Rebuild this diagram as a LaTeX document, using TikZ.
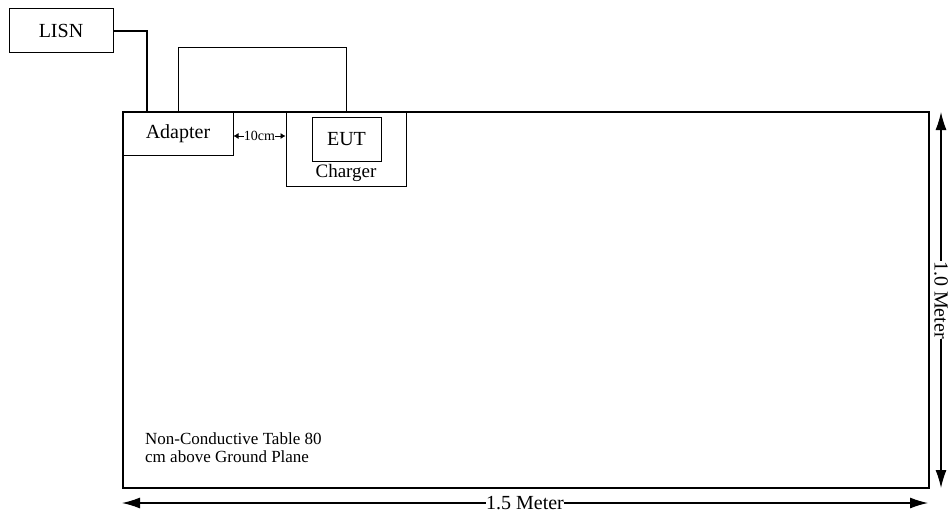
\documentclass[tikz,border=0pt]{standalone}
\usepackage{fontspec}
\setmainfont{Liberation Serif}
\usetikzlibrary{arrows.meta}
\tikzset{
  unit/.style={draw,line width=1pt,inner sep=0pt,font=\fontsize{20}{22}\selectfont},
  dimline/.style={line width=1.2pt,{Latex[length=18pt,width=11pt]}-{Latex[length=18pt,width=11pt]}},
}
\begin{document}
\begin{tikzpicture}[x=1pt,y=-1pt,font=\fontsize{17}{18}\selectfont]
  \useasboundingbox (0,0) rectangle (948,519);
  % table
  \node[draw,line width=2.8pt,minimum width=806pt,minimum height=376pt] (table) at (526,300) {};
  \node[anchor=north west,align=left,inner sep=0pt] (tabletext) at (145,433)
      {Non-Conductive Table 80\\cm above Ground Plane};
  % units
  \node[unit,minimum width=104pt,minimum height=44pt] (lisn) at (61,31) {LISN};
  \node[unit,minimum width=110pt,minimum height=43pt] (adapter) at (178,133.5) {Adapter};
  \node[unit,minimum width=120pt,minimum height=74pt] (charger) at (346,149) {};
  \node[unit,minimum width=69pt,minimum height=44pt] (eut) at (346.5,139) {EUT};
  \node[inner sep=0pt,font=\fontsize{19}{20}\selectfont] (chglabel) at (346,173) {Charger};
  % cables
  \coordinate (feed) at (147,112);
  \draw[line width=2.8pt] (lisn.east) -| (feed);
  \draw[line width=1pt] (adapter.north) -- ++(0,-64) -| (charger.north);
  % spacing
  \draw[line width=0.7pt,{Latex[length=5pt,width=6pt]}-{Latex[length=5pt,width=6pt]}]
      (adapter.east |- 0,136) -- (charger.west |- 0,136)
      node[midway,fill=white,inner sep=0pt,font=\fontsize{14}{14}\selectfont] (gap) {10cm};
  % dimensions
  \draw[dimline] (941,112) -- (941,488)
      node[midway,fill=white,inner sep=0.5pt,rotate=-90,font=\fontsize{20}{20}\selectfont] (height) {1.0 Meter};
  \draw[dimline] (122,503) -- (928,503)
      node[midway,fill=white,inner sep=0.5pt,font=\fontsize{20}{20}\selectfont] (width) {1.5 Meter};
\end{tikzpicture}
\end{document}
